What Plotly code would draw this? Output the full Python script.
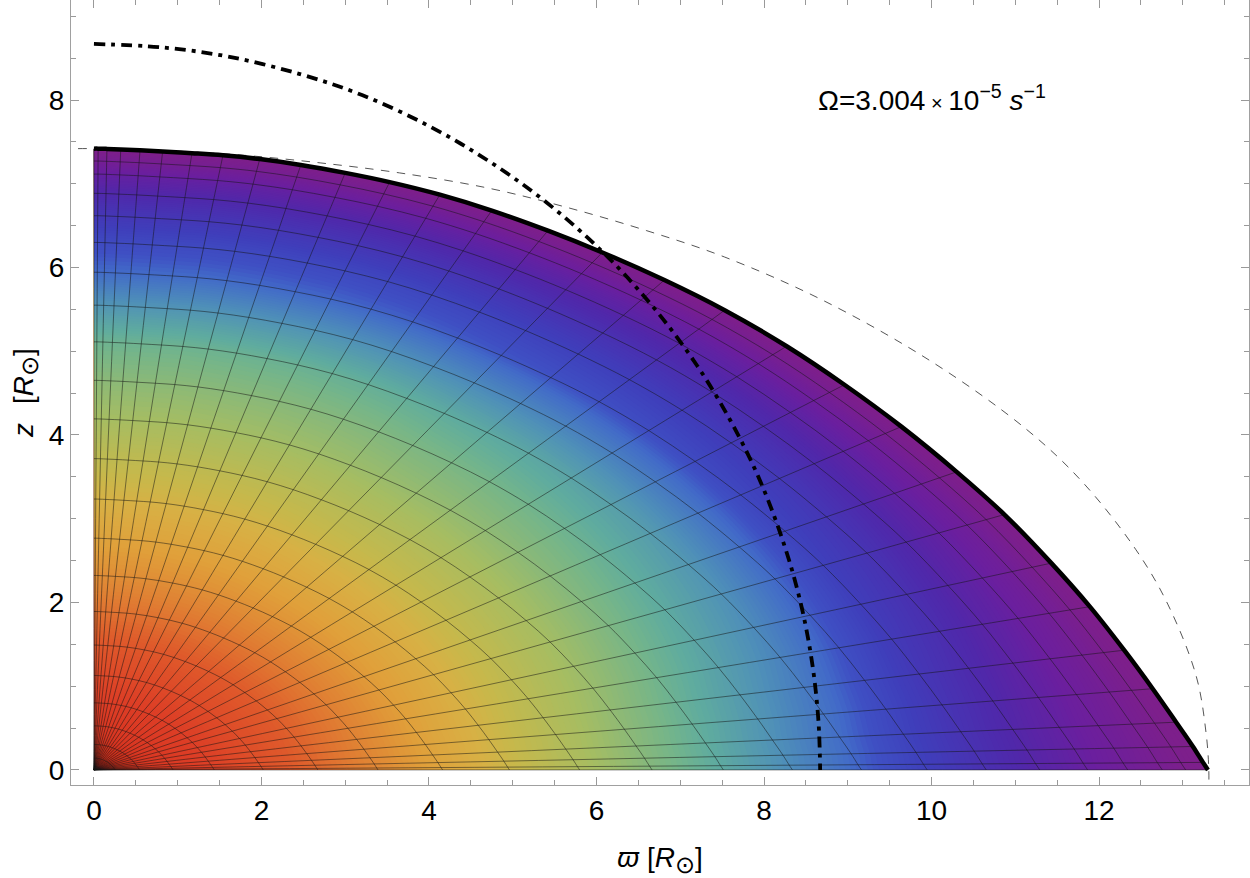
import numpy as np
import plotly.graph_objects as go

FONT = "Liberation Sans"

# Stellar surface, one (varpi, z) pair per mesh spoke, running from pole to equator
surface_x = [0.0, 0.05, 0.155, 0.32, 0.55, 0.82, 1.17, 1.54, 1.98, 2.47, 3.0, 3.53, 4.13, 4.75, 5.42, 6.07,
             6.81, 7.53, 8.27, 8.96, 9.64, 10.3, 10.87, 11.43, 11.89, 12.3, 12.64, 12.92, 13.12, 13.24, 13.3]
surface_z = [7.42, 7.42, 7.417, 7.41, 7.40, 7.385, 7.365, 7.34, 7.295, 7.225, 7.13, 7.02, 6.87, 6.68, 6.44, 6.18,
             5.85, 5.49, 5.06, 4.6, 4.1, 3.56, 3.05, 2.47, 1.95, 1.43, 0.97, 0.57, 0.28, 0.09, 0.0]

# Radial mesh surfaces as a fraction of the local stellar radius
ring_fraction = [0.0, 0.006, 0.019, 0.041, 0.071, 0.108, 0.152, 0.201, 0.255, 0.313, 0.373, 0.436, 0.501,
                 0.565, 0.627, 0.689, 0.748, 0.801, 0.849, 0.892, 0.928, 0.959, 0.98, 1.0]

# Field level on each mesh surface along the equator and along the rotation axis
equator_level = ring_fraction
pole_level = [0.0, 0.005, 0.016, 0.035, 0.06, 0.092, 0.129, 0.17, 0.217, 0.266, 0.31, 0.355, 0.40,
              0.45, 0.49, 0.535, 0.61, 0.68, 0.72, 0.775, 0.83, 0.89, 0.95, 1.0]

# Weight of the polar profile on each spoke (1 = polar, 0 = equatorial)
spoke_weight = [1, 1, 1, 1, 1, 1, 1, 1, 0.99, 0.98, 0.97, 0.96, 0.94, 0.92, 0.89, 0.85,
                0.81, 0.77, 0.72, 0.67, 0.61, 0.54, 0.47, 0.39, 0.31, 0.22, 0.15, 0.08, 0.04, 0.01, 0.0]

# Rainbow palette against field level
level_stops = [0.0, 0.02, 0.05, 0.1, 0.18, 0.23, 0.3, 0.35, 0.38, 0.45, 0.525, 0.56, 0.62, 0.68, 0.705, 0.75,
               0.83, 0.9, 0.98, 1.0]
level_colors = ["#9c1a12", "#c42c1a", "#da3722", "#dd3e26", "#df5a2b", "#e07a32", "#e0a03a", "#d8b044",
                "#c8b84a", "#a6bd62", "#74b58a", "#5fab9f", "#4f90b8", "#426cc8", "#3f50c4", "#3f3ebb",
                "#4f28aa", "#6a1f9f", "#7c1f8c", "#7e1f8a"]

# Roche-type outline (dashed) through the same pole and equator
outline_x = [-0.19, 0.0, 1.0, 1.8, 2.7, 3.65, 4.7, 5.64, 6.6, 7.53, 8.7, 10.01, 11.13, 11.8, 12.44, 12.82, 13.16, 13.28, 13.31, 13.31]
outline_z = [7.42, 7.42, 7.39, 7.34, 7.25, 7.13, 6.95, 6.72, 6.44, 6.125, 5.61, 4.87, 4.07, 3.44, 2.63, 1.98, 1.12, 0.42, 0.0, -0.18]

# Corotation radius (dash-dot)
corotation_x = [0.0, 0.8, 1.6, 2.46, 3.2, 4.0, 4.7, 5.4, 6.1, 6.7, 7.2, 7.6, 7.95, 8.25, 8.45, 8.58, 8.65, 8.67]
corotation_z = [8.67, 8.63, 8.52, 8.31, 8.06, 7.69, 7.28, 6.78, 6.16, 5.5, 4.83, 4.17, 3.46, 2.66, 1.94, 1.24, 0.58, 0.0]

major_ticks_x = [0, 2, 4, 6, 8, 10, 12]
major_ticks_y = [0, 2, 4, 6, 8]

frac = np.array(ring_fraction)
mesh_x = np.outer(surface_x, frac)
mesh_y = np.outer(surface_z, frac)
weight = np.array(spoke_weight, dtype=float)
field = np.outer(weight, pole_level) + np.outer(1 - weight, equator_level)

a_index = list(range(len(ring_fraction)))
b_index = list(range(len(surface_x)))

grid_line = dict(
    tickmode="linear", tick0=0, dtick=1,
    showgrid=True, gridcolor="rgba(20,20,20,0.72)", gridwidth=0.7,
    minorgridcount=0, showline=False, showticklabels="none",
    startline=False, endline=False, smoothing=1,
)

fig = go.Figure()
fig.add_trace(go.Carpet(carpet="mesh", a=a_index * len(b_index), b=np.repeat(b_index, len(a_index)),
                        x=mesh_x.ravel(), y=mesh_y.ravel(), aaxis=grid_line, baxis=grid_line))
fig.add_trace(go.Contourcarpet(
    carpet="mesh", a=a_index * len(b_index), b=np.repeat(b_index, len(a_index)), z=field.ravel(),
    autocontour=False, contours=dict(coloring="fill", showlines=False, start=0, end=1, size=0.005),
    line=dict(width=0), zmin=0, zmax=1, showscale=False,
    colorscale=[[s, c] for s, c in zip(level_stops, level_colors)],
))
fig.add_trace(go.Scatter(x=outline_x, y=outline_z, mode="lines", hoverinfo="skip", cliponaxis=False,
                         line=dict(color="#2a2a2a", width=0.8, dash="8.5px,7.5px", shape="spline", smoothing=1)))
fig.add_trace(go.Scatter(x=surface_x, y=surface_z, mode="lines", hoverinfo="skip",
                         line=dict(color="black", width=4.5, shape="spline", smoothing=1)))
fig.add_trace(go.Scatter(x=corotation_x, y=corotation_z, mode="lines", hoverinfo="skip",
                         line=dict(color="black", width=3.8, dash="11px,6px,4px,6px", shape="spline", smoothing=1)))

axis_common = dict(
    ticks="inside", ticklen=8, tickwidth=1, tickcolor="#999999",
    minor=dict(dtick=0.5, ticks="inside", ticklen=5, tickwidth=1, tickcolor="#999999"),
    showline=True, linecolor="#a0a0a0", linewidth=1, mirror="ticks",
    showgrid=False, zeroline=False,
    tickfont=dict(family=FONT, size=28, color="black"),
)
SUN_SUB = "<sub><span style='font-size:24px'>⊙</span></sub>"
fig.update_layout(
    width=1250, height=878, margin=dict(l=71, r=1, t=0, b=93),
    paper_bgcolor="white", plot_bgcolor="white", showlegend=False,
    font=dict(family=FONT, color="black"),
    xaxis=dict(range=[-0.274, 13.79], tickvals=major_ticks_x, ticktext=[str(v) for v in major_ticks_x],
               title=dict(text=f"<i>ϖ</i> [<i>R</i>{SUN_SUB}]", standoff=22, font=dict(family=FONT, size=28)),
               **axis_common),
    yaxis=dict(range=[-0.18, 9.195], tickvals=major_ticks_y, ticktext=[str(v) for v in major_ticks_y],
               title=dict(text=f"<i>z</i>\u2009\u2009 [<i>R</i>{SUN_SUB}]\u00a0", standoff=7, font=dict(family=FONT, size=28)),
               **axis_common),
    annotations=[dict(
        xref="x", yref="y", x=8.62, y=8.02, xanchor="left", yanchor="middle", showarrow=False,
        text="Ω=3.004\u2009<span style='font-size:20px'>×</span>\u200910<sup>−5</sup> <i>s</i><sup>−1</sup>",
        font=dict(family=FONT, size=28, color="black"),
    )],
)

fig.write_html("out.html")
